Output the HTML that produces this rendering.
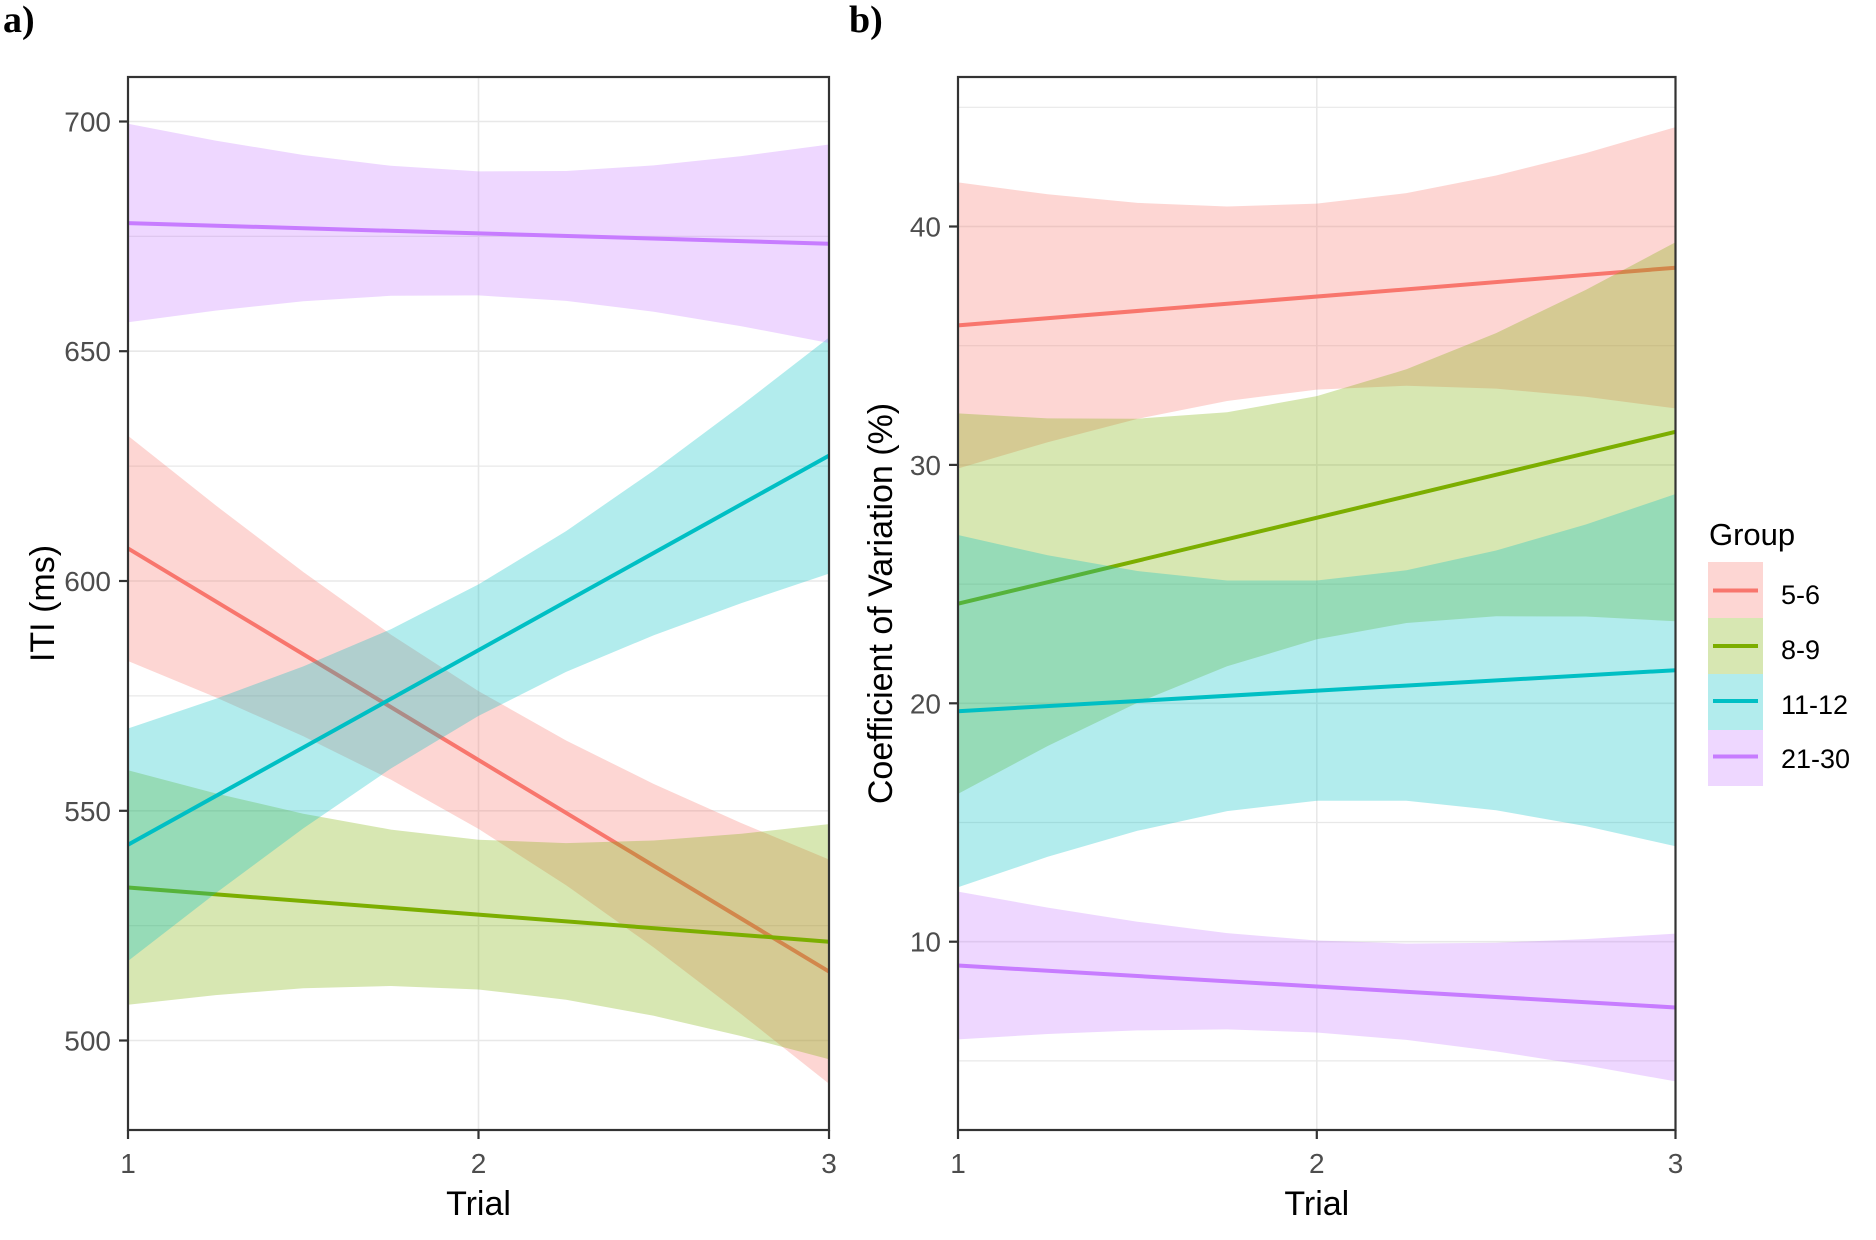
<!DOCTYPE html>
<html><head><meta charset="utf-8"><style>html,body{margin:0;padding:0;background:#fff}svg{display:block}</style></head>
<body>
<svg width="1876" height="1240" viewBox="0 0 1876 1240" xmlns="http://www.w3.org/2000/svg">
<rect width="1876" height="1240" fill="#fff"/>
<text x="3" y="32" font-family="Liberation Serif, serif" font-weight="bold" font-size="38" fill="#000">a)</text>
<text x="849" y="32" font-family="Liberation Serif, serif" font-weight="bold" font-size="38" fill="#000">b)</text>

<!-- Panel a grid -->
<g stroke="#E8E8E8" stroke-width="1.6" fill="none">
<line x1="128" x2="829" y1="1040.5" y2="1040.5"/><line x1="128" x2="829" y1="810.8" y2="810.8"/>
<line x1="128" x2="829" y1="581" y2="581"/><line x1="128" x2="829" y1="351.2" y2="351.2"/>
<line x1="128" x2="829" y1="121.5" y2="121.5"/>
<line x1="128" x2="829" y1="925.6" y2="925.6" stroke-width="1.2"/><line x1="128" x2="829" y1="695.9" y2="695.9" stroke-width="1.2"/>
<line x1="128" x2="829" y1="466.1" y2="466.1" stroke-width="1.2"/><line x1="128" x2="829" y1="236.4" y2="236.4" stroke-width="1.2"/>
<line x1="478.5" x2="478.5" y1="77" y2="1130"/>
</g>
<!-- Panel b grid -->
<g stroke="#E8E8E8" stroke-width="1.6" fill="none">
<line x1="958" x2="1675.5" y1="941.7" y2="941.7"/><line x1="958" x2="1675.5" y1="703.3" y2="703.3"/>
<line x1="958" x2="1675.5" y1="464.9" y2="464.9"/><line x1="958" x2="1675.5" y1="226.5" y2="226.5"/>
<line x1="958" x2="1675.5" y1="1060.9" y2="1060.9" stroke-width="1.2"/><line x1="958" x2="1675.5" y1="822.5" y2="822.5" stroke-width="1.2"/>
<line x1="958" x2="1675.5" y1="584.1" y2="584.1" stroke-width="1.2"/><line x1="958" x2="1675.5" y1="345.7" y2="345.7" stroke-width="1.2"/>
<line x1="958" x2="1675.5" y1="107.3" y2="107.3" stroke-width="1.2"/>
<line x1="1316.8" x2="1316.8" y1="77" y2="1130"/>
</g>

<!-- Panel a series -->
<g>
<polygon fill="#F8766D" fill-opacity="0.3" points="128,435.8 215.6,505.3 303.3,572.0 390.9,634.6 478.5,691.1 566.1,740.5 653.8,784.0 741.4,823.1 829,859.5 829,1083.7 741.4,1014.3 653.8,947.5 566.1,885.2 478.5,828.9 390.9,779.6 303.3,736.3 215.6,697.3 128,661.0"/>
<line x1="128" y1="548.4" x2="829" y2="971.6" stroke="#F8766D" stroke-width="4"/>
<polygon fill="#7CAE00" fill-opacity="0.3" points="128,770.3 215.6,793.4 303.3,813.7 390.9,829.6 478.5,839.7 566.1,843.1 653.8,840.5 741.4,833.7 829,824.1 829,1059.3 741.4,1036.1 653.8,1015.8 566.1,999.7 478.5,989.5 390.9,986.0 303.3,988.3 215.6,995.1 128,1004.7"/>
<line x1="128" y1="887.5" x2="829" y2="941.7" stroke="#7CAE00" stroke-width="4"/>
<polygon fill="#00BFC4" fill-opacity="0.3" points="128,728.5 215.6,698.9 303.3,666.4 390.9,629.2 478.5,584.4 566.1,531.1 653.8,470.5 741.4,405.3 829,337.5 829,573.6 741.4,603.1 653.8,635.2 566.1,671.9 478.5,715.9 390.9,768.5 303.3,828.4 215.6,893.3 128,961.0"/>
<line x1="128" y1="844.8" x2="829" y2="455.6" stroke="#00BFC4" stroke-width="4"/>
<polygon fill="#C77CFF" fill-opacity="0.3" points="128,123.8 215.6,140.6 303.3,155.0 390.9,165.8 478.5,171.4 566.1,171.0 653.8,165.4 741.4,156.1 829,144.5 829,343.0 741.4,326.2 653.8,311.7 566.1,300.9 478.5,295.4 390.9,295.8 303.3,301.3 215.6,310.6 128,322.3"/>
<line x1="128" y1="223.1" x2="829" y2="243.7" stroke="#C77CFF" stroke-width="4"/>
</g>

<!-- Panel b series -->
<g>
<polygon fill="#F8766D" fill-opacity="0.3" points="958,182.4 1047.7,194.3 1137.4,202.9 1227.1,206.5 1316.8,203.6 1406.4,193.1 1496.1,175.5 1585.8,153.1 1675.5,127.1 1675.5,408.4 1585.8,396.7 1496.1,388.6 1406.4,385.7 1316.8,389.6 1227.1,401.0 1137.4,418.9 1047.7,442.3 958,468.5"/>
<line x1="958" y1="325.4" x2="1675.5" y2="267.7" stroke="#F8766D" stroke-width="4"/>
<polygon fill="#7CAE00" fill-opacity="0.3" points="958,413.4 1047.7,418.4 1137.4,418.7 1227.1,412.2 1316.8,396.1 1406.4,369.3 1496.1,333.1 1585.8,289.9 1675.5,242.2 1675.5,621.3 1585.8,616.5 1496.1,616.3 1406.4,623.0 1316.8,639.3 1227.1,666.3 1137.4,702.8 1047.7,746.0 958,793.9"/>
<line x1="958" y1="603.7" x2="1675.5" y2="431.8" stroke="#7CAE00" stroke-width="4"/>
<polygon fill="#00BFC4" fill-opacity="0.3" points="958,535.0 1047.7,555.3 1137.4,571.0 1227.1,580.5 1316.8,580.5 1406.4,570.3 1496.1,550.5 1585.8,524.5 1675.5,494.0 1675.5,846.3 1585.8,826.1 1496.1,810.3 1406.4,800.8 1316.8,800.8 1227.1,811.1 1137.4,830.8 1047.7,856.8 958,887.3"/>
<line x1="958" y1="711.2" x2="1675.5" y2="670.2" stroke="#00BFC4" stroke-width="4"/>
<polygon fill="#C77CFF" fill-opacity="0.3" points="958,891.6 1047.7,907.6 1137.4,921.7 1227.1,933.1 1316.8,940.5 1406.4,943.6 1496.1,942.7 1585.8,939.1 1675.5,933.6 1675.5,1081.4 1585.8,1065.4 1496.1,1051.4 1406.4,1039.9 1316.8,1032.5 1227.1,1029.4 1137.4,1030.4 1047.7,1034.0 958,1039.4"/>
<line x1="958" y1="965.5" x2="1675.5" y2="1007.5" stroke="#C77CFF" stroke-width="4"/>
</g>

<!-- Borders and ticks -->
<g stroke="#333" stroke-width="2.2" fill="none">
<rect x="128" y="77" width="701" height="1053"/>
<rect x="958" y="77" width="717.5" height="1053"/>
<line x1="119" x2="128" y1="1040.5" y2="1040.5"/><line x1="119" x2="128" y1="810.8" y2="810.8"/>
<line x1="119" x2="128" y1="581" y2="581"/><line x1="119" x2="128" y1="351.2" y2="351.2"/>
<line x1="119" x2="128" y1="121.5" y2="121.5"/>
<line x1="949" x2="958" y1="941.7" y2="941.7"/><line x1="949" x2="958" y1="703.3" y2="703.3"/>
<line x1="949" x2="958" y1="464.9" y2="464.9"/><line x1="949" x2="958" y1="226.5" y2="226.5"/>
<line x1="128" x2="128" y1="1130" y2="1139"/><line x1="478.5" x2="478.5" y1="1130" y2="1139"/><line x1="829" x2="829" y1="1130" y2="1139"/>
<line x1="958" x2="958" y1="1130" y2="1139"/><line x1="1316.8" x2="1316.8" y1="1130" y2="1139"/><line x1="1675.5" x2="1675.5" y1="1130" y2="1139"/>
</g>

<!-- Tick labels -->
<g font-family="Liberation Sans, Arial, sans-serif" font-size="28" fill="#4D4D4D">
<g text-anchor="end">
<text x="111" y="1050.5">500</text><text x="111" y="820.8">550</text><text x="111" y="591">600</text>
<text x="111" y="361.2">650</text><text x="111" y="131.5">700</text>
<text x="941" y="951.7">10</text><text x="941" y="713.3">20</text><text x="941" y="474.9">30</text><text x="941" y="236.5">40</text>
</g>
<g text-anchor="middle">
<text x="128" y="1173">1</text><text x="478.5" y="1173">2</text><text x="829" y="1173">3</text>
<text x="958" y="1173">1</text><text x="1316.8" y="1173">2</text><text x="1675.5" y="1173">3</text>
</g>
</g>

<!-- Axis titles -->
<g font-family="Liberation Sans, Arial, sans-serif" font-size="34" fill="#000" text-anchor="middle">
<text x="478.5" y="1215">Trial</text>
<text x="1316.8" y="1215">Trial</text>
<text transform="translate(54,603.5) rotate(-90)">ITI (ms)</text>
<text transform="translate(892,603.5) rotate(-90)">Coefficient of Variation (%)</text>
</g>

<!-- Legend -->
<g font-family="Liberation Sans, Arial, sans-serif" fill="#000">
<text x="1709" y="545" font-size="31">Group</text>
<rect x="1708" y="562" width="55" height="56" fill="#F8766D" fill-opacity="0.3"/>
<rect x="1708" y="618" width="55" height="56" fill="#7CAE00" fill-opacity="0.3"/>
<rect x="1708" y="674" width="55" height="56" fill="#00BFC4" fill-opacity="0.3"/>
<rect x="1708" y="730" width="55" height="56" fill="#C77CFF" fill-opacity="0.3"/>
<line x1="1713" x2="1758" y1="590.5" y2="590.5" stroke="#F8766D" stroke-width="4"/>
<line x1="1713" x2="1758" y1="646" y2="646" stroke="#7CAE00" stroke-width="4"/>
<line x1="1713" x2="1758" y1="701" y2="701" stroke="#00BFC4" stroke-width="4"/>
<line x1="1713" x2="1758" y1="756.5" y2="756.5" stroke="#C77CFF" stroke-width="4"/>
<g font-size="27">
<text x="1781" y="604">5-6</text>
<text x="1781" y="659">8-9</text>
<text x="1781" y="714">11-12</text>
<text x="1781" y="768">21-30</text>
</g>
</g>
</svg>
</body></html>
